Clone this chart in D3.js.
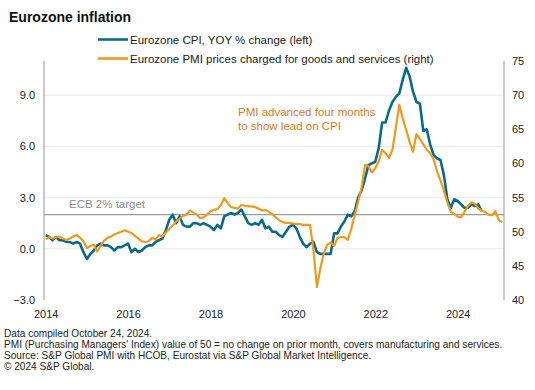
<!DOCTYPE html>
<html>
<head>
<meta charset="utf-8">
<script src="https://cdn.jsdelivr.net/npm/d3@7"></script>
<style>
  html, body { margin: 0; padding: 0; background: #fff; }
  svg { display: block; font-family: "Liberation Sans", Arial, sans-serif; }
</style>
</head>
<body>
<svg id="chart" width="535" height="390"></svg>
<script>
// ---------------- DATA ----------------
// Eurozone HICP, YoY % change, monthly from Jan 2014 (left axis)
const cpiStart = [2014, 0];
const cpi = [
  0.8,0.7,0.5,0.7,0.5,0.5,0.4,0.4,0.3,0.4,0.3,-0.2,
  -0.6,-0.3,-0.1,0.2,0.3,0.2,0.2,0.1,-0.1,0.1,0.1,0.2,
  0.3,-0.2,0.0,-0.2,-0.1,0.1,0.2,0.2,0.4,0.5,0.6,1.1,
  1.7,2.0,1.5,1.9,1.4,1.3,1.3,1.5,1.5,1.4,1.5,1.4,
  1.3,1.1,1.4,1.2,1.9,2.0,2.1,2.0,2.1,2.3,1.9,1.5,
  1.4,1.5,1.4,1.7,1.2,1.3,1.0,1.0,0.8,0.7,1.0,1.3,
  1.4,1.2,0.7,0.3,0.1,0.3,0.4,-0.2,-0.3,-0.3,-0.3,-0.3,
  0.9,0.9,1.3,1.6,2.0,1.9,2.2,3.0,3.4,4.1,4.9,5.0,
  5.1,5.9,7.4,7.4,8.1,8.6,8.9,9.1,9.9,10.6,10.1,9.2,
  8.6,8.5,6.9,7.0,6.1,5.5,5.3,5.2,4.3,2.9,2.4,2.9,
  2.8,2.6,2.4,2.4,2.6,2.5,2.6,2.2
];
// Eurozone PMI prices charged (composite), monthly from Sep 2013 (right axis)
const pmiStart = [2013, 8];
const pmiLeadMonths = 4;
const pmi = [
  48.9,49.2,49.0,49.2,49.3,49.0,48.8,49.0,49.3,49.5,49.1,48.6,
  47.6,47.9,48.1,47.1,47.9,48.7,49.1,49.3,49.6,49.8,50.0,50.2,
  50.0,49.8,49.4,49.0,48.6,48.5,48.6,49.1,48.9,49.5,49.3,49.9,
  50.4,50.9,51.5,51.9,52.3,52.5,53.1,52.8,52.5,52.0,52.1,52.5,
  53.0,53.2,53.3,53.9,54.9,54.2,53.6,53.5,53.4,53.9,53.8,53.7,
  53.7,53.6,53.4,53.1,53.2,52.9,52.6,52.1,51.7,51.4,51.3,51.3,
  51.2,51.1,51.1,51.0,51.0,51.0,47.3,41.9,44.6,46.8,48.1,48.4,
  47.9,49.1,49.2,49.2,48.8,50.4,52.4,54.4,56.4,59.8,59.6,58.7,
  59.3,60.3,62.0,61.5,60.8,62.0,65.2,68.6,66.6,64.9,63.2,61.7,
  64.3,63.6,62.8,62.0,61.5,60.6,58.8,57.5,56.0,54.3,52.9,52.6,
  52.2,52.1,52.9,53.8,54.3,54.1,53.4,53.1,52.9,52.5,52.4,53.0,
  51.7,51.4
];
const ecbTarget = 2;
const yearLabels = ["2014","2016","2018","2020","2022","2024"];
const leftTicks = [-3, 0, 3, 6, 9];
const rightTicks = [40, 45, 50, 55, 60, 65, 70, 75];
const leftDomain = [-3, 11];
const rightDomain = [40, 75];
const xStart = [2014, 0];      // first plotted month
const xEnd = [2025, 1];        // last plotted month (Feb 2025)

// ---------------- LAYOUT ----------------
const svg = d3.select("#chart");
const plot = { left: 44, right: 504, top: 61, bottom: 300 };
const CPI_COLOR = "#0b6a87";
const PMI_COLOR = "#ec9a22";

const monthIndex = (y, m) => (y - xStart[0]) * 12 + (m - xStart[1]);
const nMonths = monthIndex(xEnd[0], xEnd[1]);

const x = d3.scaleLinear().domain([-0.5, nMonths + 0.5]).range([plot.left, plot.right]);
const yL = d3.scaleLinear().domain(leftDomain).range([plot.bottom, plot.top]);
const yR = d3.scaleLinear().domain(rightDomain).range([plot.bottom, plot.top]);

const cpiData = cpi.map((v, k) => ({ i: monthIndex(cpiStart[0], cpiStart[1]) + k, v }));
const pmiData = pmi.map((v, k) => ({ i: monthIndex(pmiStart[0], pmiStart[1]) + k + pmiLeadMonths, v }));

// Title
svg.append("text").attr("x", 9).attr("y", 21.5)
  .attr("font-size", 14).attr("font-weight", "bold").attr("fill", "#111")
  .text("Eurozone inflation");

// Gridlines (left ticks)
svg.append("g").selectAll("line").data(leftTicks.filter(t => t > leftDomain[0]))
  .join("line")
  .attr("x1", plot.left).attr("x2", plot.right)
  .attr("y1", d => yL(d)).attr("y2", d => yL(d))
  .attr("stroke", "#e8e8e8").attr("stroke-width", 1);

// Left axis
const leftAxis = svg.append("g").attr("transform", `translate(${plot.left},0)`)
  .call(d3.axisLeft(yL).tickValues(leftTicks).tickSize(0).tickPadding(9).tickFormat(d3.format(".1f")));
leftAxis.select(".domain").remove();
leftAxis.selectAll("text").attr("font-size", 11).attr("fill", "#222")
  .attr("font-family", "Liberation Sans, Arial, sans-serif");

// Right axis
const rightAxis = svg.append("g").attr("transform", `translate(${plot.right},0)`)
  .call(d3.axisRight(yR).tickValues(rightTicks).tickSize(0).tickPadding(8));
rightAxis.select(".domain").remove();
rightAxis.selectAll("text").attr("font-size", 11).attr("fill", "#222")
  .attr("font-family", "Liberation Sans, Arial, sans-serif");

// Bottom axis (labels only)
const yearIdx = yearLabels.map(y => monthIndex(+y, 0));
const bottomAxis = svg.append("g").attr("transform", `translate(0,${plot.bottom})`)
  .call(d3.axisBottom(x).tickValues(yearIdx).tickSize(0).tickPadding(10)
    .tickFormat((d, k) => yearLabels[k]));
bottomAxis.select(".domain").remove();
bottomAxis.selectAll("text").attr("font-size", 11).attr("fill", "#222")
  .attr("font-family", "Liberation Sans, Arial, sans-serif");

// Vertical axis lines
[plot.left, plot.right].forEach(px => {
  svg.append("line").attr("x1", px).attr("x2", px)
    .attr("y1", plot.top).attr("y2", plot.bottom)
    .attr("stroke", "#a6a6a6").attr("stroke-width", 1.2);
});

// ECB target line
svg.append("line")
  .attr("x1", plot.left).attr("x2", plot.right)
  .attr("y1", yL(ecbTarget)).attr("y2", yL(ecbTarget))
  .attr("stroke", "#9a9a9a").attr("stroke-width", 1.3);
svg.append("text").attr("x", 69).attr("y", yL(ecbTarget) - 7)
  .attr("font-size", 11.5).attr("fill", "#8c8c8c").text("ECB 2% target");

// Lines
const lineL = d3.line().x(d => x(d.i)).y(d => yL(d.v));
const lineR = d3.line().x(d => x(d.i)).y(d => yR(d.v));

svg.append("path").datum(cpiData).attr("d", lineL)
  .attr("fill", "none").attr("stroke", CPI_COLOR).attr("stroke-width", 2.6)
  .attr("stroke-linejoin", "round");
svg.append("path").datum(pmiData).attr("d", lineR)
  .attr("fill", "none").attr("stroke", PMI_COLOR).attr("stroke-width", 2.2)
  .attr("stroke-linejoin", "round");

// Annotation
const ann = svg.append("text").attr("font-size", 11.5).attr("fill", "#d9781f");
ann.append("tspan").attr("x", 238).attr("y", 116).text("PMI advanced four months");
ann.append("tspan").attr("x", 238).attr("y", 130).text("to show lead on CPI");

// Legend
const legend = [
  { label: "Eurozone CPI, YOY % change (left)", color: CPI_COLOR, y: 39.5 },
  { label: "Eurozone PMI prices charged for goods and services (right)", color: PMI_COLOR, y: 58.5 }
];
legend.forEach(l => {
  svg.append("line").attr("x1", 98).attr("x2", 128).attr("y1", l.y).attr("y2", l.y)
    .attr("stroke", l.color).attr("stroke-width", 2.6);
  svg.append("text").attr("x", 130).attr("y", l.y + 4)
    .attr("font-size", 11.5).attr("fill", "#222").text(l.label);
});

// Footnotes
const notes = [
  "Data compiled October 24, 2024.",
  "PMI (Purchasing Managers' Index) value of 50 = no change on prior month, covers manufacturing and services.",
  "Source: S&P Global PMI with HCOB, Eurostat via S&P Global Market Intelligence.",
  "\u00A9 2024 S&P Global."
];
svg.append("g").selectAll("text").data(notes).join("text")
  .attr("x", 4).attr("y", (d, k) => 337 + k * 11)
  .attr("font-size", 10.1).attr("fill", "#222").text(d => d);
</script>
</body>
</html>
